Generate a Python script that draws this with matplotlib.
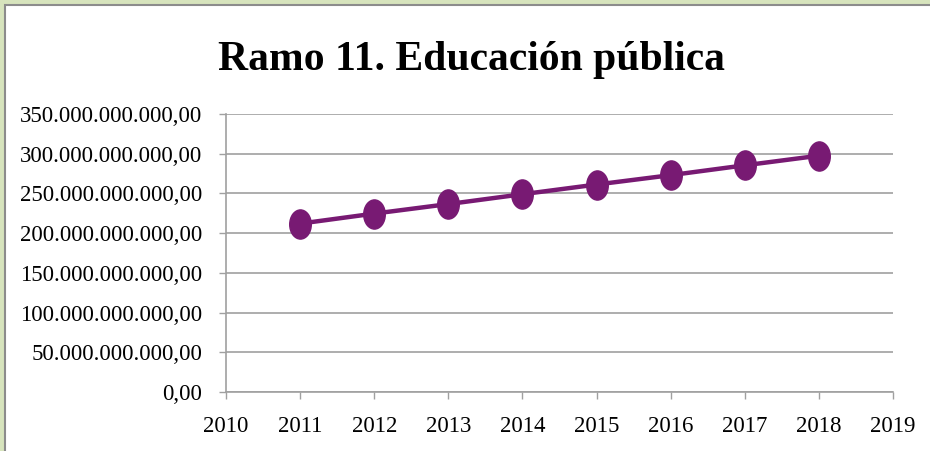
import matplotlib
matplotlib.use('Agg')
import matplotlib.pyplot as plt
from matplotlib.path import Path
from matplotlib.patches import Rectangle
from matplotlib.ticker import FuncFormatter
import matplotlib.transforms as mtransforms

years = [2011, 2012, 2013, 2014, 2015, 2016, 2017, 2018]
presupuesto = [212e9, 224.6e9, 236.6e9, 249e9, 261.2e9, 273e9, 285.4e9, 297.5e9]
y_ticks = [0, 50e9, 100e9, 150e9, 200e9, 250e9, 300e9, 350e9]
x_ticks = list(range(2010, 2020))

purple = '#781a73'
grey = '#a0a0a0'

def es_number(v, pos):
    s = '{:,.2f}'.format(v)
    return s.replace(',', 'X').replace('.', ',').replace('X', '.')

# tall ellipse marker
ellipse = Path.unit_circle().transformed(mtransforms.Affine2D().scale(0.74, 1.0))

fig = plt.figure(figsize=(9.3, 4.51), dpi=100)
fig.patch.set_facecolor('#d7e4bd')
fig.patches.append(Rectangle((5 / 930, -0.05), 1.1, 1.05 - 5 / 451, transform=fig.transFigure,
                             facecolor='white', edgecolor='#8c8c8c', linewidth=1.5,
                             zorder=-5))

ax = fig.add_axes([226 / 930, 1 - 392 / 451, (893 - 226) / 930, (392 - 114) / 451])
ax.set_facecolor('none')
ax.plot(years, presupuesto, color=purple, linewidth=3.2, marker=ellipse,
        markersize=21, markerfacecolor=purple, markeredgecolor=purple, zorder=3)

ax.set_xlim(2010, 2019)
ax.set_ylim(0, 350e9)
ax.set_xticks(x_ticks)
ax.set_yticks(y_ticks)
ax.yaxis.set_major_formatter(FuncFormatter(es_number))
ax.grid(axis='y', color=grey, linewidth=1.2)
for side in ['top', 'right']:
    ax.spines[side].set_visible(False)
for side in ['left', 'bottom']:
    ax.spines[side].set_color(grey)
    ax.spines[side].set_linewidth(1.2)
ax.tick_params(axis='both', colors=grey, length=5, width=1.0, direction='out')
ax.tick_params(axis='y', pad=12, labelcolor='black', labelsize=16.5)
ax.tick_params(axis='x', pad=12, labelcolor='black', labelsize=16.5)
for lab in ax.get_xticklabels() + ax.get_yticklabels():
    lab.set_family('Liberation Serif')

fig.text(0.507, 1 - 60 / 451, 'Ramo 11. Educación pública', ha='center', va='center',
         fontsize=30, fontweight='bold', family='Liberation Serif')

fig.savefig('out.png', dpi=100, facecolor=fig.get_facecolor())
